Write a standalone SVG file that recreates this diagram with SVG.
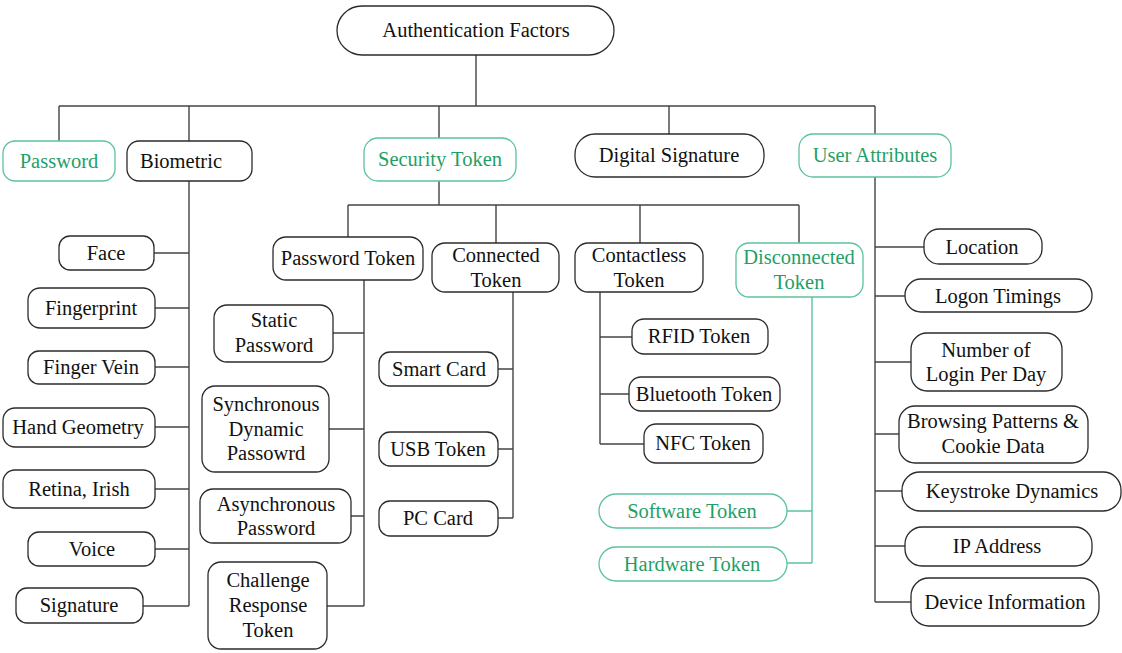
<svg xmlns="http://www.w3.org/2000/svg" width="1122" height="653" viewBox="0 0 1122 653">
  <style>
    .box { fill: #ffffff; stroke: #2b2b2b; stroke-width: 1.3; }
    .gbox { fill: #ffffff; stroke: #5cc39a; stroke-width: 1.3; }
    text { font-size: 20.5px; fill: #111111; text-anchor: middle; dominant-baseline: central; }
    .g text { fill: #1f9f67; }
    .wire { fill: none; stroke: #444444; stroke-width: 1.4; }
    .gwire { fill: none; stroke: #5cc39a; stroke-width: 1.4; }
  </style>
  <rect width="1122" height="653" fill="#ffffff"/>

  <!-- connectors -->
  <g id="connectors">
    <!-- root to first level -->
    <path class="wire" d="M476 55 V106 M59 106 H875 M59 106 V141 M189 106 V141 M439 106 V138 M669 106 V134 M875 106 V134"/>
    <!-- biometric branch -->
    <path class="wire" d="M189 181 V606 M154 253 H189 M155 308 H189 M155 367 H189 M155 427 H189 M155 489 H189 M155 549 H189 M143 606 H189"/>
    <!-- security token branch -->
    <path class="wire" d="M439 181 V205 M348 205 H799 M348 205 V237 M496 205 V243 M640 205 V243 M799 205 V243"/>
    <!-- password token children -->
    <path class="wire" d="M364 280 V606 M333 333 H364 M329 429 H364 M351 516 H364 M327 606 H364"/>
    <!-- connected token children -->
    <path class="wire" d="M513 292 V518 M498 369 H513 M498 449 H513 M498 518 H513"/>
    <!-- contactless token children -->
    <path class="wire" d="M600 292 V444 M600 337 H632 M600 394 H629 M600 444 H644"/>
    <!-- disconnected token children -->
    <path class="gwire" d="M812 297 V563 M787 511 H812 M787 563 H812"/>
    <!-- user attributes children -->
    <path class="wire" d="M875 177 V602 M875 247 H924 M875 296 H905 M875 362 H911 M875 434 H899 M875 491 H902 M875 546 H905 M875 602 H911"/>
  </g>

  <g id="nodes" font-family="'Liberation Serif', 'DejaVu Serif', serif">
  <!-- root -->
  <g id="n-auth">
    <rect class="box" x="337" y="6" width="277" height="49" rx="25"/>
    <text x="476" y="30">Authentication Factors</text>
  </g>

  <!-- first level -->
  <g id="n-password" class="g">
    <rect class="gbox" x="3" y="141" width="112" height="40" rx="12"/>
    <text x="59" y="161">Password</text>
  </g>
  <g id="n-biometric">
    <rect class="box" x="127" y="141" width="125" height="40" rx="12"/>
    <text x="181" y="161">Biometric</text>
  </g>
  <g id="n-security" class="g">
    <rect class="gbox" x="364" y="138" width="152" height="43" rx="14"/>
    <text x="440" y="159">Security Token</text>
  </g>
  <g id="n-digsig">
    <rect class="box" x="575" y="134" width="189" height="43" rx="20"/>
    <text x="669" y="155">Digital Signature</text>
  </g>
  <g id="n-userattr" class="g">
    <rect class="gbox" x="799" y="134" width="152" height="43" rx="14"/>
    <text x="875" y="155">User Attributes</text>
  </g>

  <!-- biometric children -->
  <g id="n-face">
    <rect class="box" x="59" y="236" width="95" height="34" rx="11"/>
    <text x="106" y="253">Face</text>
  </g>
  <g id="n-fingerprint">
    <rect class="box" x="28" y="288" width="127" height="40" rx="12"/>
    <text x="91" y="308">Fingerprint</text>
  </g>
  <g id="n-fingervein">
    <rect class="box" x="28" y="351" width="127" height="33" rx="11"/>
    <text x="91" y="367">Finger Vein</text>
  </g>
  <g id="n-hand">
    <rect class="box" x="3" y="408" width="152" height="39" rx="12"/>
    <text x="78" y="427">Hand Geometry</text>
  </g>
  <g id="n-retina">
    <rect class="box" x="3" y="470" width="152" height="38" rx="12"/>
    <text x="79" y="489">Retina, Irish</text>
  </g>
  <g id="n-voice">
    <rect class="box" x="28" y="532" width="127" height="34" rx="11"/>
    <text x="92" y="549">Voice</text>
  </g>
  <g id="n-signature">
    <rect class="box" x="16" y="588" width="127" height="35" rx="11"/>
    <text x="79" y="605">Signature</text>
  </g>

  <!-- security token children -->
  <g id="n-pwtoken">
    <rect class="box" x="273" y="237" width="150" height="43" rx="13"/>
    <text x="348" y="258">Password Token</text>
  </g>
  <g id="n-connected">
    <rect class="box" x="432" y="243" width="127" height="49" rx="13"/>
    <text x="496" y="255">Connected</text>
    <text x="496" y="280">Token</text>
  </g>
  <g id="n-contactless">
    <rect class="box" x="575" y="243" width="128" height="49" rx="13"/>
    <text x="639" y="255">Contactless</text>
    <text x="639" y="280">Token</text>
  </g>
  <g id="n-disconnected" class="g">
    <rect class="gbox" x="736" y="243" width="127" height="54" rx="13"/>
    <text x="799" y="257">Disconnected</text>
    <text x="799" y="282">Token</text>
  </g>

  <!-- password token children -->
  <g id="n-static">
    <rect class="box" x="214" y="305" width="119" height="57" rx="13"/>
    <text x="274" y="320">Static</text>
    <text x="274" y="345">Password</text>
  </g>
  <g id="n-sync">
    <rect class="box" x="202" y="386" width="127" height="86" rx="13"/>
    <text x="266" y="404">Synchronous</text>
    <text x="266" y="429">Dynamic</text>
    <text x="266" y="453">Passowrd</text>
  </g>
  <g id="n-async">
    <rect class="box" x="200" y="489" width="151" height="54" rx="13"/>
    <text x="276" y="504">Asynchronous</text>
    <text x="276" y="528">Password</text>
  </g>
  <g id="n-challenge">
    <rect class="box" x="208" y="562" width="119" height="87" rx="13"/>
    <text x="268" y="580">Challenge</text>
    <text x="268" y="605">Response</text>
    <text x="268" y="630">Token</text>
  </g>

  <!-- connected token children -->
  <g id="n-smartcard">
    <rect class="box" x="379" y="352" width="119" height="34" rx="11"/>
    <text x="439" y="369">Smart Card</text>
  </g>
  <g id="n-usb">
    <rect class="box" x="379" y="432" width="119" height="34" rx="11"/>
    <text x="438" y="449">USB Token</text>
  </g>
  <g id="n-pccard">
    <rect class="box" x="379" y="501" width="119" height="35" rx="11"/>
    <text x="438" y="518">PC Card</text>
  </g>

  <!-- contactless token children -->
  <g id="n-rfid">
    <rect class="box" x="632" y="319" width="136" height="35" rx="12"/>
    <text x="699" y="336">RFID Token</text>
  </g>
  <g id="n-bluetooth">
    <rect class="box" x="629" y="377" width="151" height="34" rx="12"/>
    <text x="704" y="394">Bluetooth Token</text>
  </g>
  <g id="n-nfc">
    <rect class="box" x="644" y="424" width="119" height="39" rx="12"/>
    <text x="703" y="443">NFC Token</text>
  </g>

  <!-- disconnected token children -->
  <g id="n-software" class="g">
    <rect class="gbox" x="599" y="494" width="188" height="34" rx="17"/>
    <text x="692" y="511">Software Token</text>
  </g>
  <g id="n-hardware" class="g">
    <rect class="gbox" x="599" y="547" width="188" height="34" rx="17"/>
    <text x="692" y="564">Hardware Token</text>
  </g>

  <!-- user attribute children -->
  <g id="n-location">
    <rect class="box" x="924" y="229" width="118" height="35" rx="15"/>
    <text x="982" y="247">Location</text>
  </g>
  <g id="n-logon">
    <rect class="box" x="905" y="279" width="187" height="33" rx="16"/>
    <text x="998" y="296">Logon Timings</text>
  </g>
  <g id="n-numlogin">
    <rect class="box" x="911" y="333" width="151" height="58" rx="16"/>
    <text x="986" y="350">Number of</text>
    <text x="986" y="374">Login Per Day</text>
  </g>
  <g id="n-browsing">
    <rect class="box" x="899" y="406" width="189" height="57" rx="16"/>
    <text x="993" y="421">Browsing Patterns &amp;</text>
    <text x="993" y="446">Cookie Data</text>
  </g>
  <g id="n-keystroke">
    <rect class="box" x="902" y="472" width="219" height="39" rx="18"/>
    <text x="1012" y="491">Keystroke Dynamics</text>
  </g>
  <g id="n-ip">
    <rect class="box" x="905" y="527" width="187" height="39" rx="17"/>
    <text x="997" y="546">IP Address</text>
  </g>
  <g id="n-device">
    <rect class="box" x="911" y="578" width="188" height="48" rx="18"/>
    <text x="1005" y="602">Device Information</text>
  </g>
  </g>
</svg>
